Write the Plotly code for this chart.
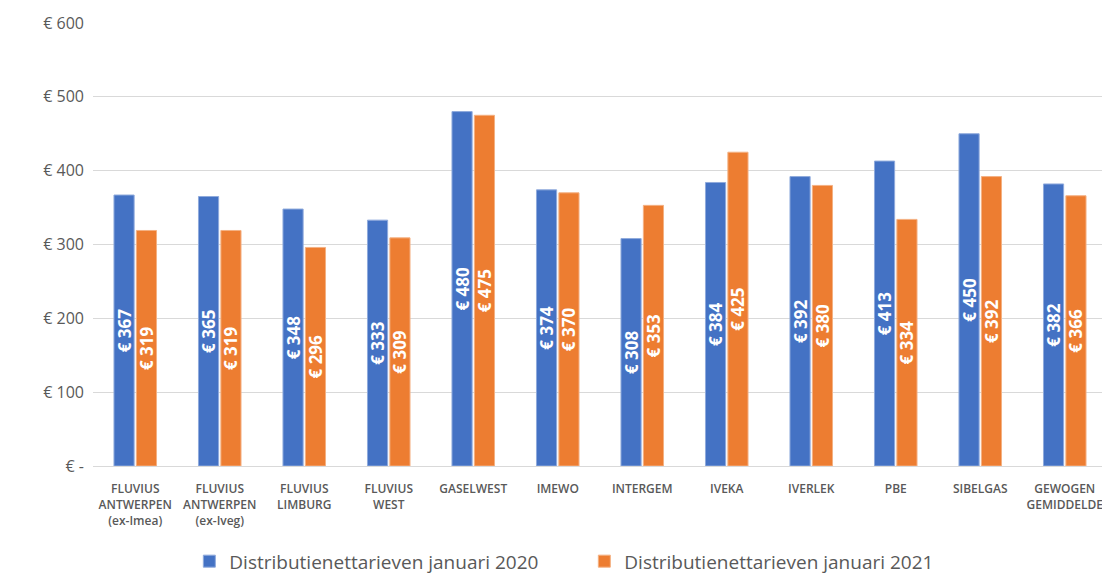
import plotly.graph_objects as go

categories = [
    "FLUVIUS<br>ANTWERPEN<br>(ex-Imea)",
    "FLUVIUS<br>ANTWERPEN<br>(ex-Iveg)",
    "FLUVIUS<br>LIMBURG",
    "FLUVIUS<br>WEST",
    "GASELWEST",
    "IMEWO",
    "INTERGEM",
    "IVEKA",
    "IVERLEK",
    "PBE",
    "SIBELGAS",
    "GEWOGEN<br>GEMIDDELDE",
]
tarief_2020 = [367, 365, 348, 333, 480, 374, 308, 384, 392, 413, 450, 382]
tarief_2021 = [319, 319, 296, 309, 475, 370, 353, 425, 380, 334, 392, 366]
y_ticks = [0, 100, 200, 300, 400, 500, 600]
y_tick_labels = ["€ -", "€ 100", "€ 200", "€ 300", "€ 400", "€ 500", "€ 600"]

series = [
    ("Distributienettarieven januari 2020", tarief_2020, "#4472C4", "#8FAADC"),
    ("Distributienettarieven januari 2021", tarief_2021, "#ED7D31", "#F4B183"),
]

fig = go.Figure()
for name, values, color, edge in series:
    fig.add_trace(
        go.Bar(
            x=categories,
            y=values,
            name=name,
            marker=dict(color=color, line=dict(color=edge, width=1)),
            text=[f"€ {v}" for v in values],
            textposition="inside",
            insidetextanchor="middle",
            textangle=-90,
            textfont=dict(color="white", size=17, family="Open Sans", weight=700),
        )
    )

# the page body adds an 8px margin, so the figure is 8px smaller than the window
fig.update_layout(
    width=1102,
    height=575,
    margin=dict(l=85, r=3, t=15, b=115),
    paper_bgcolor="white",
    plot_bgcolor="white",
    barmode="group",
    bargap=0.47,
    bargroupgap=0.1,
    uniformtext=dict(minsize=16, mode="show"),
    font=dict(family="Open Sans", color="#595959"),
    legend=dict(
        orientation="h",
        x=0.095,
        xanchor="left",
        y=-0.258,
        yanchor="bottom",
        font=dict(size=19, color="#595959"),
        itemwidth=30,
        entrywidth=350,
        traceorder="normal",
    ),
    showlegend=True,
)
fig.update_xaxes(
    automargin=False,
    tickfont=dict(size=12, color="#595959", weight=600),
    ticklabelstandoff=12,
    showline=True,
    linecolor="#D9D9D9",
    linewidth=1,
    ticks="",
)
fig.update_yaxes(
    automargin=False,
    range=[0, 600],
    tickvals=y_ticks,
    ticktext=y_tick_labels,
    tickfont=dict(size=16, color="#595959"),
    showgrid=True,
    gridcolor="#D9D9D9",
    gridwidth=1,
    zeroline=False,
    ticklabelstandoff=8,
)

fig.write_html("out.html")
